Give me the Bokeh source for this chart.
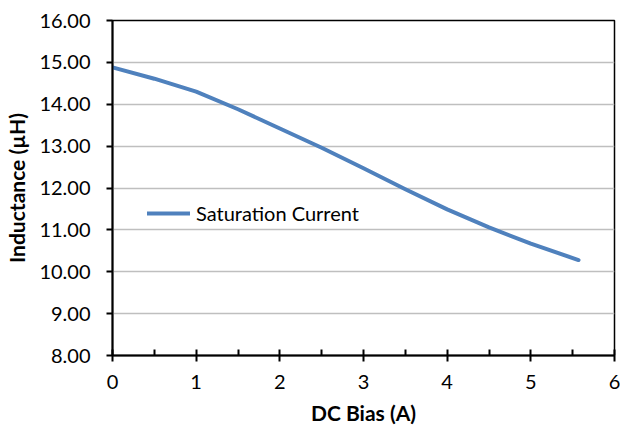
from bokeh.plotting import figure
from bokeh.models import (Range1d, FixedTicker, NumeralTickFormatter, Legend, LegendItem,
                          SingleIntervalTicker)
from bokeh.embed import file_html
from bokeh.resources import INLINE

# Data
dc_bias = [0.0, 0.5, 1.0, 1.5, 2.0, 2.5, 3.0, 3.5, 4.0, 4.5, 5.0, 5.57]
inductance = [14.88, 14.61, 14.30, 13.88, 13.42, 12.96, 12.47, 11.97, 11.49, 11.06, 10.67, 10.28]
series_name = "Saturation Current"
y_ticks = [8, 9, 10, 11, 12, 13, 14, 15, 16]
x_title = "DC Bias (A)"
y_title = "Inductance (µH)"

FONT = "Lato"
TXT = "#000000"

p = figure(width=620, height=427, output_backend="svg", toolbar_location=None,
           x_range=Range1d(0, 6), y_range=Range1d(8, 16),
           min_border_left=112, min_border_right=6, min_border_top=20, min_border_bottom=72)
p.background_fill_color = "white"
p.border_fill_color = "white"
p.outline_line_color = "black"
p.outline_line_width = 1.5

r = p.line(dc_bias, inductance, line_color="#4f81bd", line_width=4, line_cap="round",
           line_join="round")

# grid
p.xgrid.visible = False
p.ygrid.grid_line_color = "#bfbfbf"
p.ygrid.grid_line_width = 1.5

# x axis
p.xaxis.ticker = SingleIntervalTicker(interval=1, num_minor_ticks=2)
p.xaxis.axis_line_color = "black"
p.xaxis.axis_line_width = 2
p.xaxis.major_tick_line_width = 2
p.xaxis.major_tick_out = 6
p.xaxis.major_tick_in = 0
p.xaxis.minor_tick_line_width = 2
p.xaxis.minor_tick_in = 6
p.xaxis.minor_tick_out = 0
p.xaxis.minor_tick_line_color = "black"
p.xaxis.major_label_text_font = FONT
p.xaxis.major_label_text_font_size = "20px"
p.xaxis.major_label_text_color = TXT
p.xaxis.major_label_standoff = 13
p.xaxis.axis_label = x_title
p.xaxis.axis_label_text_font = FONT
p.xaxis.axis_label_text_font_size = "21px"
p.xaxis.axis_label_text_font_style = "bold"
p.xaxis.axis_label_text_color = TXT
p.xaxis.axis_label_standoff = 8

# y axis
p.yaxis.ticker = FixedTicker(ticks=y_ticks, minor_ticks=[])
p.yaxis.formatter = NumeralTickFormatter(format="0.00")
p.yaxis.axis_line_color = "black"
p.yaxis.axis_line_width = 2
p.yaxis.major_tick_line_width = 2
p.yaxis.major_tick_out = 6
p.yaxis.major_tick_in = 0
p.yaxis.major_label_text_font = FONT
p.yaxis.major_label_text_font_size = "20px"
p.yaxis.major_label_text_color = TXT
p.yaxis.major_label_standoff = 16
p.yaxis.axis_label = y_title
p.yaxis.axis_label_text_font = FONT
p.yaxis.axis_label_text_font_size = "21px"
p.yaxis.axis_label_text_font_style = "bold"
p.yaxis.axis_label_text_color = TXT
p.yaxis.axis_label_standoff = 7

legend = Legend(items=[LegendItem(label=series_name, renderers=[r])],
                location=(35, 130), glyph_width=43, glyph_height=24,
                label_standoff=6, padding=0, margin=0, spacing=0,
                border_line_color=None, background_fill_alpha=0,
                label_text_font=FONT, label_text_font_size="20px", label_text_color=TXT)
p.add_layout(legend, "center")

open("out.html", "w").write(file_html(p, INLINE))
